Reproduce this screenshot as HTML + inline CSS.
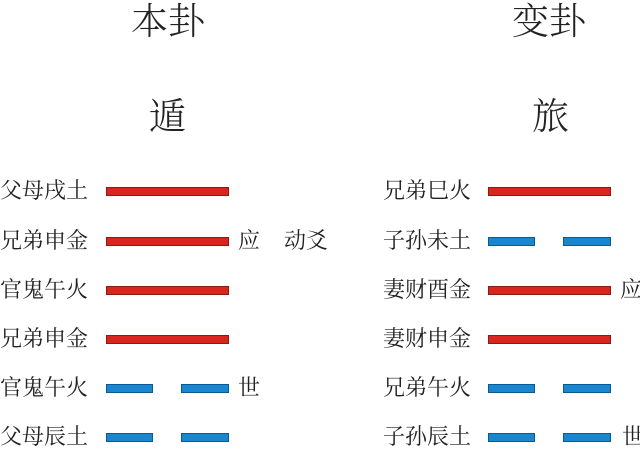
<!DOCTYPE html>
<html><head><meta charset="utf-8"><style>
body{margin:0;width:640px;height:451px;background:#fff;position:relative;overflow:hidden;font-family:"Liberation Serif","Noto Serif CJK SC",serif;color:#222}
.t{position:absolute;white-space:nowrap;line-height:1}
.big{font-size:37px;font-weight:300}
.lb{font-size:22px;letter-spacing:0px}
.r{position:absolute;height:9px;background:#d9261c;border:1px solid #8a1a12;box-sizing:border-box}
.b{position:absolute;height:9px;background:#1a86d0;border:1px solid #0d5a8e;box-sizing:border-box}
</style></head><body>
<div class="t big" style="left:131px;top:4px">本卦</div>
<div class="t big" style="left:149px;top:99px">遁</div>
<div class="t big" style="left:512px;top:4px">变卦</div>
<div class="t big" style="left:532px;top:99px">旅</div>

<div class="t lb" style="left:0;top:180px">父母戌土</div>
<div class="t lb" style="left:0;top:230px">兄弟申金</div>
<div class="t lb" style="left:0;top:279px">官鬼午火</div>
<div class="t lb" style="left:0;top:328px">兄弟申金</div>
<div class="t lb" style="left:0;top:377px">官鬼午火</div>
<div class="t lb" style="left:0;top:426px">父母辰土</div>
<div class="t lb" style="left:238px;top:230px">应</div>
<div class="t lb" style="left:284px;top:230px">动爻</div>
<div class="t lb" style="left:238px;top:377px">世</div>

<div class="r" style="left:106px;top:187px;width:123px"></div>
<div class="r" style="left:106px;top:237px;width:123px"></div>
<div class="r" style="left:106px;top:286px;width:123px"></div>
<div class="r" style="left:106px;top:335px;width:123px"></div>
<div class="b" style="left:106px;top:384px;width:47px"></div>
<div class="b" style="left:181px;top:384px;width:48px"></div>
<div class="b" style="left:106px;top:433px;width:47px"></div>
<div class="b" style="left:181px;top:433px;width:48px"></div>

<div class="t lb" style="left:383px;top:180px">兄弟巳火</div>
<div class="t lb" style="left:383px;top:230px">子孙未土</div>
<div class="t lb" style="left:383px;top:279px">妻财酉金</div>
<div class="t lb" style="left:383px;top:328px">妻财申金</div>
<div class="t lb" style="left:383px;top:377px">兄弟午火</div>
<div class="t lb" style="left:383px;top:426px">子孙辰土</div>
<div class="t lb" style="left:620px;top:279px">应</div>
<div class="t lb" style="left:622px;top:426px">世</div>

<div class="r" style="left:488px;top:187px;width:123px"></div>
<div class="b" style="left:488px;top:237px;width:47px"></div>
<div class="b" style="left:563px;top:237px;width:48px"></div>
<div class="r" style="left:488px;top:286px;width:123px"></div>
<div class="r" style="left:488px;top:335px;width:123px"></div>
<div class="b" style="left:488px;top:384px;width:47px"></div>
<div class="b" style="left:563px;top:384px;width:48px"></div>
<div class="b" style="left:488px;top:433px;width:47px"></div>
<div class="b" style="left:563px;top:433px;width:48px"></div>
</body></html>
